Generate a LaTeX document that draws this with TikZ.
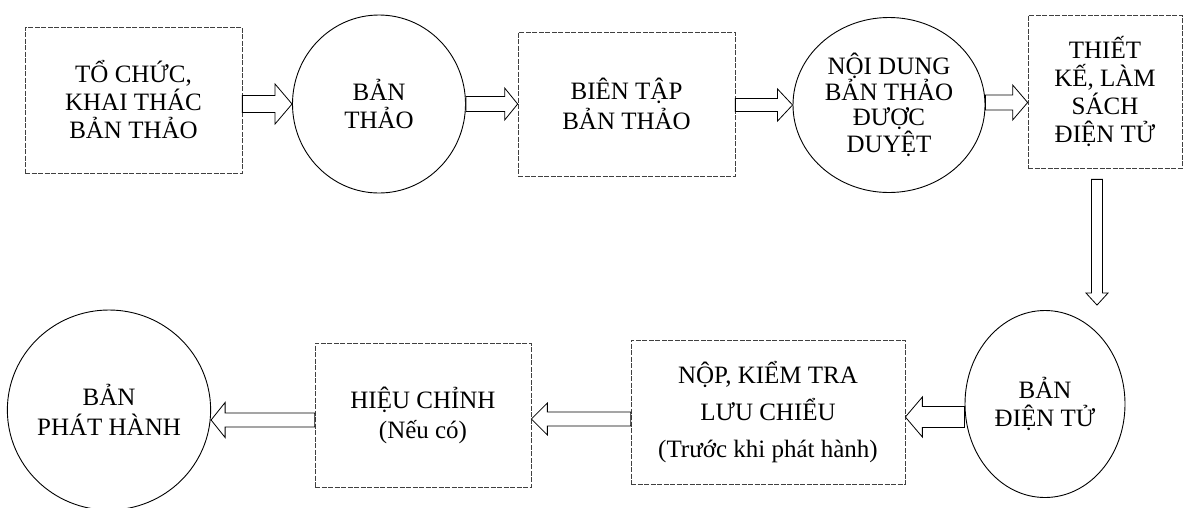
\documentclass[tikz,border=0pt]{standalone}
\usepackage{fontspec}
\setmainfont{Liberation Serif}
\usetikzlibrary{calc,shapes.geometric}
\tikzset{
  boxnode/.style={draw=black!75, line width=0.7pt, dash pattern=on 5pt off 1.5pt, rectangle, align=center, inner sep=0pt,
     font=\fontsize{25}{28}\selectfont},
  circnode/.style={draw=black, line width=0.9pt, ellipse, align=center, inner sep=0pt,
     font=\fontsize{25}{28}\selectfont},
  arr/.style={draw=black, line width=0.8pt, fill=white, line join=miter}
}
% horizontal hollow arrow: start, tip, shaft half width, head half width, head length
\newcommand\harr[5]{%
  \draw[arr] let \p1=(#1), \p2=(#2), \n1={ifthenelse(\x2>\x1,1,-1)} in
   (\x1,\y2+#3) -- ({\x2-\n1*#5},\y2+#3) -- ({\x2-\n1*#5},\y2+#4) -- (\x2,\y2)
   -- ({\x2-\n1*#5},\y2-#4) -- ({\x2-\n1*#5},\y2-#3) -- (\x1,\y2-#3) -- cycle;}
% vertical hollow arrow
\newcommand\varr[5]{%
  \draw[arr] let \p1=(#1), \p2=(#2), \n1={ifthenelse(\y2>\y1,1,-1)} in
   (\x1+#3,\y1) -- (\x1+#3,{\y2-\n1*#5}) -- (\x1+#4,{\y2-\n1*#5}) -- (\x1,\y2)
   -- (\x1-#4,{\y2-\n1*#5}) -- (\x1-#3,{\y2-\n1*#5}) -- (\x1-#3,\y1) -- cycle;}
\begin{document}
\begin{tikzpicture}[x=1pt,y=-1pt]
\useasboundingbox (0,0) rectangle (1185,507);
% top row
\node[boxnode, minimum width=217pt, minimum height=146pt] (b1) at (133.5,100) {TỔ CHỨC,\\KHAI THÁC\\BẢN THẢO};
\node[circnode, minimum width=173pt, minimum height=178pt] (c1) at (379,104) {BẢN\\THẢO};
\node[boxnode, minimum width=217pt, minimum height=144pt, font=\fontsize{25}{30}\selectfont] (b2) at (626.5,104) {BIÊN TẬP\\BẢN THẢO};
\node[circnode, minimum width=192pt, minimum height=175pt, font=\fontsize{25}{25.5}\selectfont] (c2) at (889,105) {NỘI DUNG\\BẢN THẢO\\ĐƯỢC\\DUYỆT};
\node[boxnode, minimum width=154pt, minimum height=153pt] (b3) at (1105,91.5) {THIẾT\\KẾ, LÀM\\SÁCH\\ĐIỆN TỬ};
% bottom row
\node[circnode, minimum width=160pt, minimum height=187pt] (c3) at (1045,404) {BẢN\\ĐIỆN TỬ};
\node[boxnode, minimum width=274pt, minimum height=144pt, font=\fontsize{25}{37}\selectfont] (b4) at (768,412) {NỘP, KIỂM TRA\\LƯU CHIỂU\\(Trước khi phát hành)};
\node[boxnode, minimum width=216pt, minimum height=144pt, font=\fontsize{25}{30}\selectfont] (b5) at (423,415) {HIỆU CHỈNH\\(Nếu có)};
\node[circnode, minimum width=202pt, minimum height=200pt, font=\fontsize{25}{30}\selectfont] (c4) at (109,410) {BẢN\\PHÁT HÀNH};
% arrows
\harr{b1.east}{c1.west}{8.5pt}{20pt}{17pt}
\harr{c1.east}{b2.west}{7.5pt}{16pt}{13pt}
\harr{b2.east}{c2.west}{6.5pt}{16pt}{15pt}
\harr{c2.east}{$(b3.west)+(0,11)$}{7.5pt}{17.5pt}{15pt}
\varr{$(b3.south)+(-8,11)$}{$(c3.north)+(0,-5)$}{5.5pt}{11pt}{12pt}
\harr{c3.west}{$(b4.east)+(0,5)$}{10.5pt}{20pt}{17pt}
\harr{b4.west}{$(b5.east)+(0,4)$}{7pt}{16pt}{16pt}
\harr{b5.west}{$(c4.east)+(0,10)$}{7pt}{17.5pt}{14pt}
\end{tikzpicture}
\end{document}
